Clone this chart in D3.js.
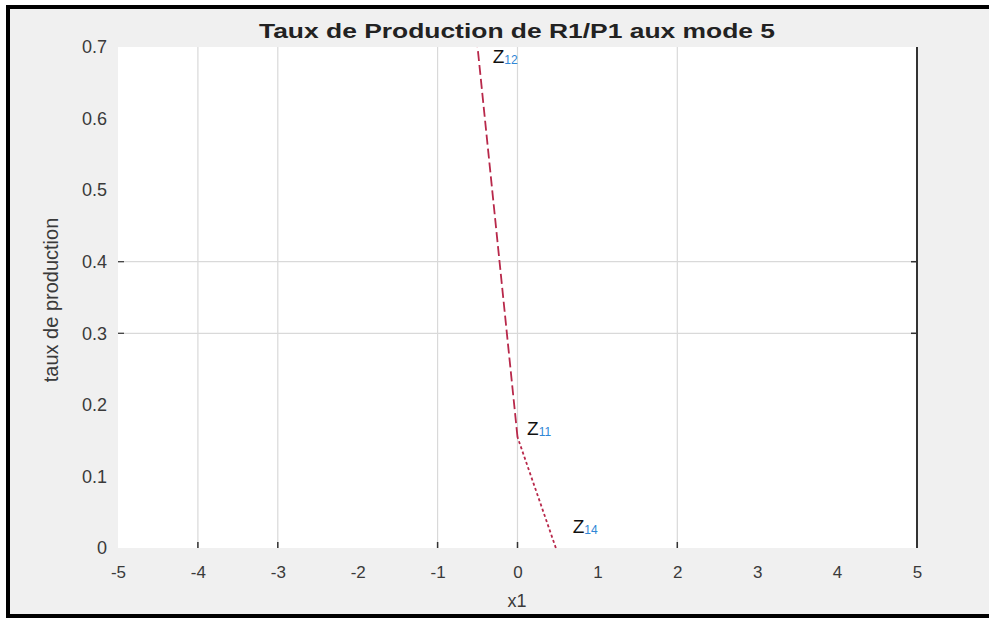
<!DOCTYPE html>
<html><head><meta charset="utf-8">
<script src="https://cdn.jsdelivr.net/npm/d3@7/dist/d3.min.js"></script>
<style>html,body{margin:0;padding:0;background:#fff;}svg{display:block;}</style>
</head><body><svg id="c" width="989" height="618"></svg>
<script>
const title = "Taux de Production de R1/P1 aux mode 5";
const xLabel = "x1";
const yLabel = "taux de production";
const xTicks = [-5, -4, -3, -2, -1, 0, 1, 2, 3, 4, 5];
const yTicks = [0, 0.1, 0.2, 0.3, 0.4, 0.5, 0.6, 0.7];
const xGrid = [-4, -3, -1, 0, 2];
const yGrid = [0.3, 0.4];
const lowerX = [0.48, 0.0];
const lowerY = [0, 0.155];
const upperX = [0.0, -0.5];
const upperY = [0.155, 0.7];
const pointLabels = ["Z", "Z", "Z"];
const pointSubs = ["12", "11", "14"];
const labelX = [-0.31, 0.12, 0.69];
const labelY = [0.677, 0.158, 0.021];

const FONT = "Liberation Sans, Arial, sans-serif";
const svg = d3.select("#c");
svg.append("rect").attr("x",0).attr("y",0).attr("width",989).attr("height",618).attr("fill","#fff");
svg.append("rect").attr("x",8).attr("y",7).attr("width",990).attr("height",609)
  .attr("fill","#f0f0f0").attr("stroke","#000").attr("stroke-width",4);

const L=118,R=917,T=47,B=548;
const x = d3.scaleLinear().domain([-5,5]).range([L,R]);
const y = d3.scaleLinear().domain([0,0.7]).range([B,T]);

svg.append("rect").attr("x",L).attr("y",T).attr("width",R-L).attr("height",B-T).attr("fill","#fff");

const g = svg.append("g");
g.selectAll(".vg").data(xGrid).join("line").attr("x1",d=>x(d)).attr("x2",d=>x(d))
  .attr("y1",T).attr("y2",B).attr("stroke","#d9d9d9").attr("stroke-width",1.2);
g.selectAll(".hg").data(yGrid).join("line").attr("y1",d=>y(d)).attr("y2",d=>y(d))
  .attr("x1",L).attr("x2",R).attr("stroke","#d9d9d9").attr("stroke-width",1.2);

g.selectAll(".bt").data(xGrid).join("line").attr("x1",d=>x(d)).attr("x2",d=>x(d))
  .attr("y1",B-6).attr("y2",B).attr("stroke","#333").attr("stroke-width",1.5);
g.selectAll(".lt").data(yGrid).join("line").attr("y1",d=>y(d)).attr("y2",d=>y(d))
  .attr("x1",L).attr("x2",L+6).attr("stroke","#333").attr("stroke-width",1.2);
g.selectAll(".rt").data(yGrid).join("line").attr("y1",d=>y(d)).attr("y2",d=>y(d))
  .attr("x1",R-6).attr("x2",R).attr("stroke","#333").attr("stroke-width",1.5);
g.append("line").attr("x1",R).attr("x2",R).attr("y1",T).attr("y2",B).attr("stroke","#333").attr("stroke-width",2);

const xa = svg.append("g").attr("transform",`translate(0,${B})`)
  .call(d3.axisBottom(x).tickValues(xTicks).tickSize(0).tickPadding(18).tickFormat(d=>String(d)));
xa.select(".domain").remove();
xa.selectAll("text").attr("font-family",FONT).attr("font-size",17).attr("fill","#3a3a3a");
const ya = svg.append("g").attr("transform",`translate(${L},0)`)
  .call(d3.axisLeft(y).tickValues(yTicks).tickSize(0).tickPadding(11).tickFormat(d=>d===0?"0":d3.format(".1f")(d)));
ya.select(".domain").remove();
ya.selectAll("text").attr("font-family",FONT).attr("font-size",18).attr("fill","#3a3a3a");

const line = d3.line().x(d=>x(d[0])).y(d=>y(d[1]));
svg.append("path").datum(lowerX.map((v,i)=>[v,lowerY[i]])).attr("d",line)
  .attr("fill","none").attr("stroke","#b8284a").attr("stroke-width",1.8).attr("stroke-dasharray","3,2.5");
svg.append("path").datum(upperX.map((v,i)=>[v,upperY[i]])).attr("d",line)
  .attr("fill","none").attr("stroke","#b8284a").attr("stroke-width",1.8).attr("stroke-dasharray","10,4");

pointLabels.forEach((t,i)=>{
  const tx = svg.append("text").attr("x",x(labelX[i])).attr("y",y(labelY[i]))
    .attr("font-family",FONT).attr("font-size",19).attr("fill","#111");
  tx.append("tspan").text(t);
  tx.append("tspan").attr("font-size",12).attr("dy",1).attr("fill","#2f86d6").text(pointSubs[i]);
});

svg.append("text").attr("x",517).attr("y",38).attr("text-anchor","middle")
  .attr("font-family",FONT).attr("font-weight","bold").attr("font-size",21)
  .attr("textLength",516).attr("lengthAdjust","spacingAndGlyphs")
  .attr("fill","#222").text(title);
svg.append("text").attr("x",517).attr("y",607).attr("text-anchor","middle")
  .attr("font-family",FONT).attr("font-size",18).attr("fill","#3a3a3a").text(xLabel);
svg.append("text").attr("transform","translate(58,300) rotate(-90)").attr("text-anchor","middle")
  .attr("font-family",FONT).attr("font-size",20).attr("fill","#3a3a3a").text(yLabel);
</script></body></html>
